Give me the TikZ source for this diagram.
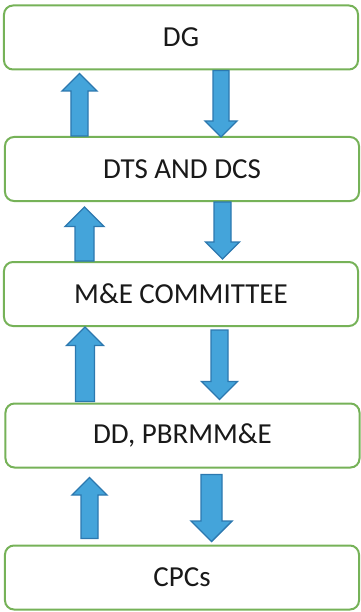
\documentclass[tikz,border=0pt]{standalone}
\usepackage{fontspec}
\setmainfont{Carlito}
\usetikzlibrary{calc}
\definecolor{boxgreen}{RGB}{118,178,88}
\definecolor{flowblue}{RGB}{68,164,218}
\definecolor{flowedge}{RGB}{44,120,175}
\tikzset{
  level/.style={draw=boxgreen,line width=2bp,rounded corners=9bp,fill=white,
    minimum width=354bp,minimum height=64bp,inner sep=0pt,
    font=\fontsize{29bp}{33bp}\selectfont,text=black!90},
  flow/.style={fill=flowblue,draw=flowedge,line width=1.4bp,line join=miter}
}
% block arrow: #1 tail, #2 tip, #3 half shaft, #4 half head
\newcommand\flowarrow[4]{%
  \draw[flow] let \p1=#1, \p2=#2, \n1={sign(\y2-\y1)*#4} in
    (\x1-#3,\y1) -- (\x1-#3,\y2-\n1) -- (\x1-#4,\y2-\n1) -- (\x1,\y2)
    -- (\x1+#4,\y2-\n1) -- (\x1+#3,\y2-\n1) -- (\x1+#3,\y1) -- cycle;}
\begin{document}
\begin{tikzpicture}[x=1bp,y=-1bp]
		\useasboundingbox (0,0) rectangle (360,612);
		\node[level] (dg) at (181,37.5) {DG};
		\node[level] (dts) at (182,169) {DTS AND DCS};
		\node[level] (me) at (181,294) {M\&E COMMITTEE};
		\node[level] (dd) at (182.5,435.5) {DD, PBRMM\&E};
		\node[level] (cpc) at (182,577.5) {CPCs};
		% upward arrows
		\flowarrow{([xshift=-102.5bp]dts.north)}{([xshift=-102.5bp,yshift=-3bp]dg.south)}{8.5bp}{17.5bp}
		\flowarrow{([xshift=-96.5bp]me.north)}{([xshift=-96.5bp,yshift=-5bp]dts.south)}{9.5bp}{19.5bp}
		\flowarrow{([xshift=-97.5bp,yshift=1bp]dd.north)}{([xshift=-97.5bp]me.south)}{9.5bp}{18.5bp}
		\flowarrow{([xshift=-92.5bp,yshift=6bp]cpc.north)}{([xshift=-92.5bp,yshift=-9bp]dd.south)}{8.5bp}{17.5bp}
		% downward arrows
		\flowarrow{([xshift=40bp]dg.south)}{([xshift=40bp,yshift=-1bp]dts.north)}{8bp}{16bp}
		\flowarrow{([xshift=40.5bp]dts.south)}{([xshift=40.5bp,yshift=2bp]me.north)}{8.5bp}{17bp}
		\flowarrow{([xshift=38.5bp,yshift=-3bp]me.south)}{([xshift=38.5bp,yshift=3bp]dd.north)}{8.5bp}{18bp}
		\flowarrow{([xshift=29bp,yshift=-6bp]dd.south)}{([xshift=29bp,yshift=3bp]cpc.north)}{10.5bp}{20.5bp}
\end{tikzpicture}
\end{document}
